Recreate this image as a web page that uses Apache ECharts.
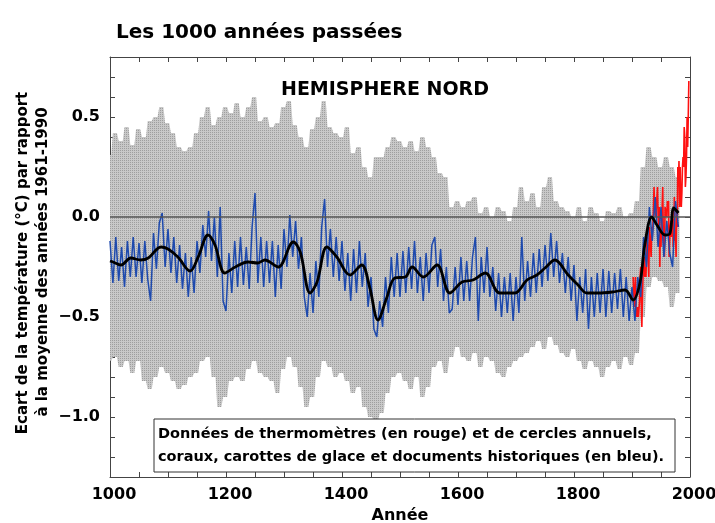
<!DOCTYPE html>
<html><head><meta charset="utf-8">
<script src="https://cdn.jsdelivr.net/npm/echarts@6/dist/echarts.min.js"></script>
<style>html,body{margin:0;padding:0;background:#fff}#c{width:715px;height:523px}</style>
</head><body><div id="c"></div>
<script>
// ---- Data ----
const titleText = "Les 1000 années passées";
const regionText = "HEMISPHERE NORD";
const yTitle1 = "Ecart de la température (°C) par rapport";
const yTitle2 = "à la moyenne des années 1961-1990";
const xTitle = "Année";
const noteLine1 = "Données de thermomètres (en rouge) et de cercles annuels,";
const noteLine2 = "coraux, carottes de glace et documents historiques (en bleu).";

// Uncertainty band (grey), every 10 years from 1000 to 1980
const bandStart = 1000, bandStep = 10;
const bandUpper = [0.31,0.42,0.38,0.45,0.36,0.44,0.40,0.48,0.50,0.55,
  0.47,0.42,0.35,0.33,0.35,0.42,0.50,0.55,0.46,0.50,
  0.55,0.52,0.57,0.50,0.55,0.60,0.48,0.50,0.45,0.47,
  0.55,0.58,0.46,0.40,0.35,0.44,0.50,0.58,0.45,0.42,
  0.40,0.45,0.32,0.35,0.25,0.20,0.30,0.30,0.35,0.40,
  0.38,0.35,0.38,0.33,0.40,0.35,0.30,0.22,0.20,0.05,
  0.08,0.05,0.08,0.10,0.02,0.05,0.00,0.05,0.03,-0.02,
  0.05,0.15,0.08,0.12,0.05,0.15,0.20,0.08,0.05,0.03,
  0.00,0.05,-0.02,0.05,0.02,-0.02,0.03,0.02,0.05,0.00,
  0.02,0.08,0.25,0.35,0.30,0.25,0.30,0.25,0.20];
const bandLower = [-0.72,-0.70,-0.75,-0.72,-0.78,-0.72,-0.82,-0.86,-0.80,-0.75,
  -0.78,-0.82,-0.86,-0.84,-0.80,-0.78,-0.72,-0.70,-0.80,-0.95,
  -0.90,-0.82,-0.80,-0.82,-0.76,-0.72,-0.78,-0.80,-0.82,-0.88,
  -0.76,-0.70,-0.75,-0.85,-0.95,-0.90,-0.80,-0.72,-0.75,-0.80,
  -0.78,-0.82,-0.88,-0.85,-0.95,-1.00,-1.02,-0.98,-0.88,-0.80,
  -0.78,-0.82,-0.86,-0.80,-0.90,-0.85,-0.75,-0.72,-0.78,-0.70,
  -0.65,-0.70,-0.72,-0.68,-0.75,-0.70,-0.72,-0.78,-0.80,-0.75,
  -0.72,-0.70,-0.68,-0.65,-0.62,-0.66,-0.60,-0.64,-0.68,-0.70,
  -0.66,-0.72,-0.76,-0.72,-0.75,-0.80,-0.75,-0.72,-0.76,-0.70,
  -0.74,-0.68,-0.50,-0.35,-0.30,-0.32,-0.35,-0.45,-0.38];

// Proxy reconstruction (blue), every 5 years from 1000 to 1980
const blueStart = 1000, blueStep = 5;
const blueValues = [-0.12,-0.33,-0.10,-0.32,-0.15,-0.35,-0.12,-0.30,-0.10,-0.30,
  -0.13,-0.33,-0.12,-0.31,-0.42,-0.08,-0.26,-0.03,0.02,-0.25,
  -0.06,-0.28,-0.10,-0.33,-0.14,-0.36,-0.18,-0.40,-0.20,-0.38,
  -0.12,-0.28,-0.04,-0.20,0.03,-0.22,0.00,-0.30,0.05,-0.42,
  -0.47,-0.18,-0.38,-0.12,-0.35,-0.10,-0.34,-0.15,-0.36,-0.05,
  0.12,-0.33,-0.10,-0.35,-0.12,-0.33,-0.12,-0.40,-0.14,-0.36,
  -0.06,-0.25,0.01,-0.20,-0.02,-0.26,-0.10,-0.40,-0.50,-0.28,
  -0.48,-0.22,-0.40,-0.05,0.09,-0.25,-0.06,-0.30,-0.10,-0.32,
  -0.12,-0.37,-0.18,-0.42,-0.16,-0.38,-0.12,-0.35,-0.18,-0.45,
  -0.30,-0.56,-0.60,-0.42,-0.55,-0.30,-0.48,-0.20,-0.40,-0.18,
  -0.40,-0.17,-0.38,-0.15,-0.36,-0.12,-0.38,-0.20,-0.42,-0.18,
  -0.38,-0.14,-0.10,-0.35,-0.16,-0.42,-0.25,-0.48,-0.46,-0.25,
  -0.44,-0.20,-0.42,-0.22,-0.42,-0.20,-0.10,-0.52,-0.20,-0.38,
  -0.15,-0.40,-0.25,-0.47,-0.28,-0.50,-0.30,-0.48,-0.28,-0.52,
  -0.30,-0.48,-0.10,-0.42,-0.22,-0.40,-0.18,-0.38,-0.16,-0.35,
  -0.14,-0.32,-0.08,-0.30,-0.12,-0.33,-0.18,-0.38,-0.20,-0.42,
  -0.24,-0.52,-0.30,-0.48,-0.26,-0.56,-0.30,-0.50,-0.28,-0.48,
  -0.26,-0.50,-0.27,-0.48,-0.28,-0.46,-0.26,-0.50,-0.30,-0.52,
  -0.35,-0.52,-0.30,-0.40,-0.10,-0.25,0.05,-0.12,0.10,-0.15,
  0.05,-0.20,-0.02,-0.18,-0.25,0.08,-0.05];

// Instrumental record (red), annual 1902-1998
const redStart = 1902;
const redValues = [-0.30,-0.40,-0.45,-0.35,-0.30,-0.50,-0.45,-0.50,-0.45,-0.50,
  -0.50,-0.42,-0.30,-0.25,-0.42,-0.55,-0.40,-0.30,-0.30,-0.20,
  -0.30,-0.25,-0.30,-0.20,-0.10,-0.15,-0.15,-0.30,-0.05,-0.05,
  -0.05,-0.20,-0.05,-0.10,-0.05,0.05,0.15,0.05,0.05,0.00,
  0.05,0.10,0.15,0.00,-0.05,0.05,-0.25,-0.05,-0.15,0.00,
  0.05,0.15,-0.10,-0.10,-0.20,0.05,0.05,0.05,0.00,0.08,
  0.05,0.08,-0.20,-0.12,-0.05,-0.02,-0.10,0.00,-0.02,-0.15,
  -0.10,0.10,-0.12,-0.08,-0.20,0.05,-0.05,0.25,0.15,0.28,
  0.05,0.25,0.10,0.05,0.12,0.25,0.30,0.25,0.45,0.40,
  0.15,0.20,0.30,0.50,0.35,0.50,0.68];

// Smoothed 40-year curve (black), read points [year, value]
const smoothYears = [1000,1005,1019,1036,1053,1066,1088,1100,1117,1138,1152,1169,1181,1198,1216,1238,1255,1267,1290,1316,1328,1345,1357,1374,1391,1414,1434,1448,1462,1477,1491,1509,1521,1540,1564,1586,1607,1626,1647,1672,1698,1719,1736,1750,1767,1790,1807,1822,1841,1866,1888,1902,1914,1922,1934,1943,1957,1965,1972,1980];
const smoothValues = [-0.22,-0.225,-0.24,-0.205,-0.215,-0.205,-0.15,-0.16,-0.20,-0.27,-0.20,-0.09,-0.14,-0.28,-0.25,-0.225,-0.23,-0.215,-0.25,-0.125,-0.175,-0.38,-0.325,-0.15,-0.20,-0.29,-0.24,-0.355,-0.515,-0.405,-0.305,-0.30,-0.25,-0.30,-0.24,-0.38,-0.325,-0.315,-0.28,-0.38,-0.38,-0.315,-0.29,-0.255,-0.215,-0.29,-0.34,-0.38,-0.38,-0.375,-0.365,-0.415,-0.325,-0.14,0.0,-0.04,-0.09,-0.085,0.045,0.02];

const xTicks = [1000,1200,1400,1600,1800,2000];
const yLabelValues = [0.5,0.0,-0.5,-1.0];

// ---- Build series data ----
const bandYears = bandUpper.map((v,i)=>bandStart+i*bandStep);
const blueData = blueValues.map((v,i)=>[blueStart+i*blueStep, v]);
const redData = redValues.map((v,i)=>[redStart+i, v]);
const smoothData = smoothYears.map((y,i)=>[y, smoothValues[i]]);

const FONT = '"DejaVu Sans", Verdana, sans-serif';
const frameColor = '#444';

// dotted grey texture like the halftone in the reference
const pat = document.createElement('canvas');
pat.width = 4; pat.height = 4;
(function(){const g = pat.getContext('2d');
  g.fillStyle = '#c8c8c8'; g.fillRect(0,0,4,4);
  g.fillStyle = '#9e9e9e';
  g.fillRect(0,0,1,1); g.fillRect(2,2,1,1); g.fillRect(2,0,1,1); g.fillRect(0,2,1,1);
})();

const chart = echarts.init(document.getElementById('c'), null, {renderer:'canvas'});
const L=110, R=690, T=57, B=477;

function axisCommon(){
  return {
    axisLine:{show:true, onZero:false, lineStyle:{color:frameColor, width:1}},
    axisTick:{show:true, inside:true, length:5, lineStyle:{color:frameColor}},
    minorTick:{show:true, length:5, splitNumber:4, lineStyle:{color:frameColor}},
    splitLine:{show:false},
    minorSplitLine:{show:false}
  };
}

const option = {
  animation:false,
  backgroundColor:'#fff',
  title:{text:titleText, left:111, top:18, textStyle:{fontFamily:FONT, fontWeight:'bold', fontSize:20, color:'#000'}},
  grid:{left:L, right:715-R, top:T, bottom:523-B, containLabel:false, outerBoundsMode:'none'},
  xAxis:[
    Object.assign({type:'value', min:1000, max:2000, interval:200, position:'bottom',
      axisLabel:{show:true, color:'#000', fontFamily:FONT, fontWeight:'bold', fontSize:16, margin:10,
        padding:[0,0,0,8], formatter:v=> xTicks.includes(v)? String(v):''},
      name:xTitle, nameLocation:'middle', nameGap:28,
      nameTextStyle:{color:'#000', fontFamily:FONT, fontWeight:'bold', fontSize:16}}, axisCommon()),
    Object.assign({type:'value', min:1000, max:2000, interval:200, position:'top',
      axisLabel:{show:false}}, axisCommon())
  ],
  yAxis:[
    Object.assign({type:'value', min:-1.3, max:0.8, interval:0.1, position:'left',
      axisLabel:{show:true, color:'#000', fontFamily:FONT, fontWeight:'bold', fontSize:16, margin:10,
        formatter:v=>{const t=Math.round(v*10)/10; return yLabelValues.some(x=>Math.abs(x-t)<1e-6)? t.toFixed(1).replace('-','\u2212'):'';}}},
      axisCommon(), {minorTick:{show:false}}),
    Object.assign({type:'value', min:-1.3, max:0.8, interval:0.1, position:'right',
      axisLabel:{show:false}}, axisCommon(), {minorTick:{show:false}})
  ],
  series:[
    {type:'custom', silent:true, z:1, data:[[bandStart, bandLower[0]]], encode:{x:0, y:1},
      renderItem:function(params, api){
        // stepped outline: each bin drawn like a vertical error bar
        const n = bandYears.length, h = bandStep/2, pts = [];
        for (let i=0;i<n;i++){
          pts.push(api.coord([Math.max(bandStart, bandYears[i]-h), bandUpper[i]]));
          pts.push(api.coord([bandYears[i]+h*0.4, bandUpper[i]]));
        }
        for (let i=n-1;i>=0;i--){
          pts.push(api.coord([bandYears[i]+h*0.4, bandLower[i]]));
          pts.push(api.coord([Math.max(bandStart, bandYears[i]-h), bandLower[i]]));
        }
        return {type:'polygon', shape:{points:pts}, style:{fill:{image:pat, repeat:'repeat'}, stroke:null}};
      }},
    {type:'line', data:redData, symbol:'none', lineStyle:{color:'#ff1010', width:1.6}, z:3},
    {type:'line', data:blueData, symbol:'none', lineStyle:{color:'#1e4aae', width:1.5}, z:4},
    {type:'line', data:smoothData, symbol:'none', smooth:0.35, lineStyle:{color:'#000', width:2.8}, z:5,
      markLine:{silent:true, symbol:'none', label:{show:false},
        lineStyle:{color:'#555', width:1.5, type:'solid'}, data:[{yAxis:0}]}}
  ],
  graphic:[
    {type:'text', x:385, y:90, style:{text:regionText, fill:'#000', font:'bold 19px '+FONT, align:'center', verticalAlign:'middle'}, z:10},
    {type:'text', x:23, y:263, rotation:Math.PI/2, style:{text:yTitle1, fill:'#000', font:'bold 15px '+FONT, align:'center', verticalAlign:'middle'}, z:10},
    {type:'text', x:43, y:262, rotation:Math.PI/2, style:{text:yTitle2, fill:'#000', font:'bold 15px '+FONT, align:'center', verticalAlign:'middle'}, z:10},
    {type:'rect', shape:{x:154, y:419, width:521, height:53}, style:{fill:'#fff', stroke:'#333', lineWidth:1}, z:20},
    {type:'text', x:158, y:434, style:{text:noteLine1, fill:'#000', font:'bold 14.5px '+FONT, verticalAlign:'middle'}, z:21},
    {type:'text', x:158, y:457, style:{text:noteLine2, fill:'#000', font:'bold 14.5px '+FONT, verticalAlign:'middle'}, z:21}
  ]
};
chart.setOption(option);
</script></body></html>
